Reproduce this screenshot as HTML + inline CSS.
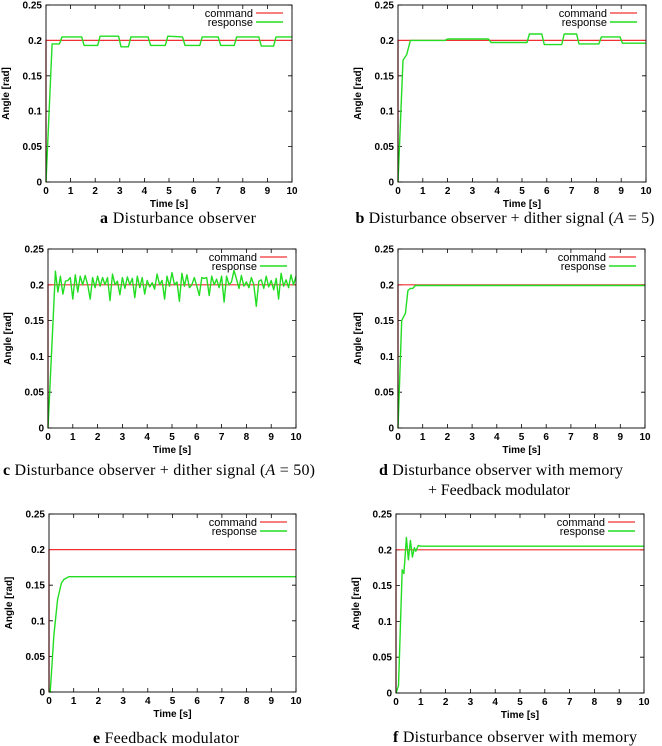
<!DOCTYPE html>
<html><head><meta charset="utf-8"><style>
body{margin:0;background:#fff;width:662px;height:746px;overflow:hidden}
svg{display:block}
.tk{font:bold 10px "Liberation Sans",sans-serif;fill:#000}
.cap{font:16px "Liberation Serif",serif;fill:#000}
.lg{font:11px "Liberation Sans",sans-serif;fill:#000}
</style></head><body>
<svg id="fig" width="662" height="746"></svg>
<script>
// Panel a data
const aT=[0,0.25,0.55,0.65,1.45,1.55,2.1,2.2,2.95,3.05,3.35,3.45,4.15,4.25,4.85,4.95,5.55,5.65,6.25,6.35,7.0,7.1,7.65,7.75,8.65,8.75,9.25,9.35,10];
const aY=[0,0.195,0.195,0.205,0.205,0.193,0.193,0.206,0.206,0.191,0.191,0.205,0.205,0.193,0.193,0.206,0.205,0.193,0.193,0.205,0.205,0.193,0.193,0.205,0.205,0.192,0.192,0.205,0.205];
// Panel b data
const bT=[0,0.2,0.35,0.5,1.9,2.0,3.65,3.75,5.2,5.3,5.8,5.9,6.6,6.7,7.2,7.3,8.1,8.2,8.95,9.05,10];
const bY=[0,0.172,0.18,0.2,0.2,0.202,0.202,0.197,0.197,0.209,0.209,0.194,0.194,0.209,0.209,0.195,0.195,0.205,0.205,0.196,0.196];
// Panel c data
const cT=[0,0.3,0.4,0.5,0.6,0.7,0.8,0.9,1.0,1.1,1.2,1.3,1.4,1.5,1.6,1.7,1.8,1.9,2.0,2.1,2.2,2.3,2.4,2.5,2.6,2.7,2.8,2.9,3.0,3.1,3.2,3.3,3.4,3.5,3.6,3.7,3.8,3.9,4.0,4.1,4.2,4.3,4.4,4.5,4.6,4.7,4.8,4.9,5.0,5.1,5.2,5.3,5.4,5.5,5.6,5.7,5.8,5.9,6.0,6.1,6.2,6.3,6.4,6.5,6.6,6.7,6.8,6.9,7.0,7.1,7.2,7.3,7.4,7.5,7.6,7.7,7.8,7.9,8.0,8.1,8.2,8.3,8.4,8.5,8.6,8.7,8.8,8.9,9.0,9.1,9.2,9.3,9.4,9.5,9.6,9.7,9.8,9.9,10];
const cY=[0,.219,.19,.212,.187,.205,.206,.21,.18,.214,.19,.212,.2,.213,.2,.18,.21,.196,.212,.198,.21,.2,.21,.178,.215,.2,.205,.186,.21,.195,.211,.2,.209,.182,.212,.196,.21,.187,.206,.197,.203,.194,.215,.2,.206,.18,.212,.198,.217,.2,.204,.177,.216,.198,.214,.196,.2,.21,.198,.185,.21,.209,.21,.185,.212,.2,.208,.196,.212,.176,.212,.2,.204,.22,.208,.195,.213,.198,.204,.196,.21,.2,.17,.205,.207,.195,.212,.197,.206,.193,.209,.18,.216,.198,.207,.196,.214,.2,.212];
// Panel d data
const dT=[0,0.15,0.25,0.3,0.4,0.5,0.6,0.7,10];
const dY=[0,0.15,0.157,0.16,0.192,0.195,0.195,0.199,0.199];
// Panel e data
const eT=[0,0.05,0.2,0.35,0.5,0.6,0.7,0.8,10];
const eY=[0,0,0.08,0.13,0.153,0.158,0.16,0.162,0.162];
// Panel f data
const fT=[0,0.1,0.25,0.32,0.42,0.5,0.58,0.66,0.74,0.8,0.9,1.0,10];
const fY=[0,0.01,0.172,0.167,0.217,0.186,0.213,0.19,0.203,0.198,0.206,0.205,0.205];
// command
const cmdValue=0.2;
const xTicks=[0,1,2,3,4,5,6,7,8,9,10];
const yTicks=[0,0.05,0.1,0.15,0.2,0.25];
const yTickLabels=["0","0.05","0.1","0.15","0.2","0.25"];

const panels=[
 {id:'a',x0:46,x1:292,y0:5,y1:182,t:aT,y:aY,cap:[['a','Disturbance observer',178,156]],capY:[223]},
 {id:'b',x0:398,x1:646,y0:5,y1:182,t:bT,y:bY,cap:[['b','Disturbance observer + dither signal (<tspan font-style="italic">A</tspan> = 5)',505,299]],capY:[223]},
 {id:'c',x0:48,x1:296,y0:249,y1:428,t:cT,y:cY,cap:[['c','Disturbance observer + dither signal (<tspan font-style="italic">A</tspan> = 50)',159,312]],capY:[475]},
 {id:'d',x0:398,x1:645,y0:249,y1:428,t:dT,y:dY,cap:[['d','Disturbance observer with memory',501,244],['','+ Feedback modulator',499,142]],capY:[475,495]},
 {id:'e',x0:49,x1:296,y0:514,y1:692,t:eT,y:eY,cap:[['e','Feedback modulator',166,146]],capY:[743]},
 {id:'f',x0:396,x1:644,y0:514,y1:693,t:fT,y:fY,cap:[['f','Disturbance observer with memory',515,244]],capY:[742]}
];
const NS='http://www.w3.org/2000/svg';
const svg=document.getElementById('fig');
function mk(tag,attrs,parent){const e=document.createElementNS(NS,tag);for(const k in attrs)e.setAttribute(k,attrs[k]);(parent||svg).appendChild(e);return e;}
panels.forEach(p=>{
 const g=mk('g',{});
 
 
 const sx=t=>p.x0+(t/10)*(p.x1-p.x0);
 const sy=v=>p.y1-(v/0.25)*(p.y1-p.y0);
 xTicks.forEach(t=>{
  const x=sx(t);
  const tk=mk('path',{d:`M${x},${p.y1}v-4M${x},${p.y0}v4`,stroke:'#000','stroke-width':0.8},g);
  
  
  const l=mk('text',{x:x,y:p.y1+12,'text-anchor':'middle',class:'tk'},g);
  l.textContent=String(t);
  
  
 });
 yTicks.forEach((v,i)=>{
  const y=sy(v);
  const tk=mk('path',{d:`M${p.x0},${y}h4M${p.x1},${y}h-4`,stroke:'#000','stroke-width':0.8},g);
  
  
  const l=mk('text',{x:p.x0-4,y:y+3.5,'text-anchor':'end',class:'tk'},g);
  l.textContent=yTickLabels[i];
  
  
 });
 const xt=mk('text',{x:(p.x0+p.x1)/2,y:p.y1+25,'text-anchor':'middle',class:'tk'},g);
 xt.textContent='Time [s]';
 
 
 const yx=p.x0-37, yy=(p.y0+p.y1)/2;
 const yt=mk('text',{x:yx,y:yy,'text-anchor':'middle',class:'tk',transform:`rotate(-90 ${yx} ${yy})`},g);
 yt.textContent='Angle [rad]';
 
 
 const cmd=mk('path',{d:`M${sx(0)},${sy(0)}L${sx(0)},${sy(cmdValue)}L${sx(10)},${sy(cmdValue)}`,stroke:'#f03030',fill:'none','stroke-width':1.2},g);
 
 
 const d=p.t.map((t,i)=>(i?'L':'M')+sx(t).toFixed(1)+','+sy(p.y[i]).toFixed(1)).join('');
 const rs=mk('path',{d:d,stroke:'#22dd22',fill:'none','stroke-width':1.4,'stroke-linejoin':'round'},g);
 
 
 const fr=mk('rect',{x:p.x0,y:p.y0,width:p.x1-p.x0,height:p.y1-p.y0,fill:'none',stroke:'#000','stroke-width':0.9},g);
 
 
 const lx=p.x1-39;
 const l1=mk('text',{x:lx,y:p.y0+12,'text-anchor':'end',class:'lg'},g);
 l1.textContent='command';
 
 
 mk('line',{x1:lx+3,x2:p.x1-9,y1:p.y0+8,y2:p.y0+8,stroke:'#f03030','stroke-width':1.2},g);
 const l2=mk('text',{x:lx,y:p.y0+21,'text-anchor':'end',class:'lg'},g);
 l2.textContent='response';
 
 
 mk('line',{x1:lx+3,x2:p.x1-9,y1:p.y0+17,y2:p.y0+17,stroke:'#22dd22','stroke-width':1.4},g);
 p.cap.forEach((c,i)=>{
  const t=mk('text',{x:c[2],y:p.capY[i],'text-anchor':'middle',class:'cap',textLength:c[3],lengthAdjust:'spacing'},g);
  t.innerHTML=(c[0]?'<tspan font-weight="bold">'+c[0]+'</tspan> ':'')+c[1];
  
  
 });
});
</script>
</body></html>
